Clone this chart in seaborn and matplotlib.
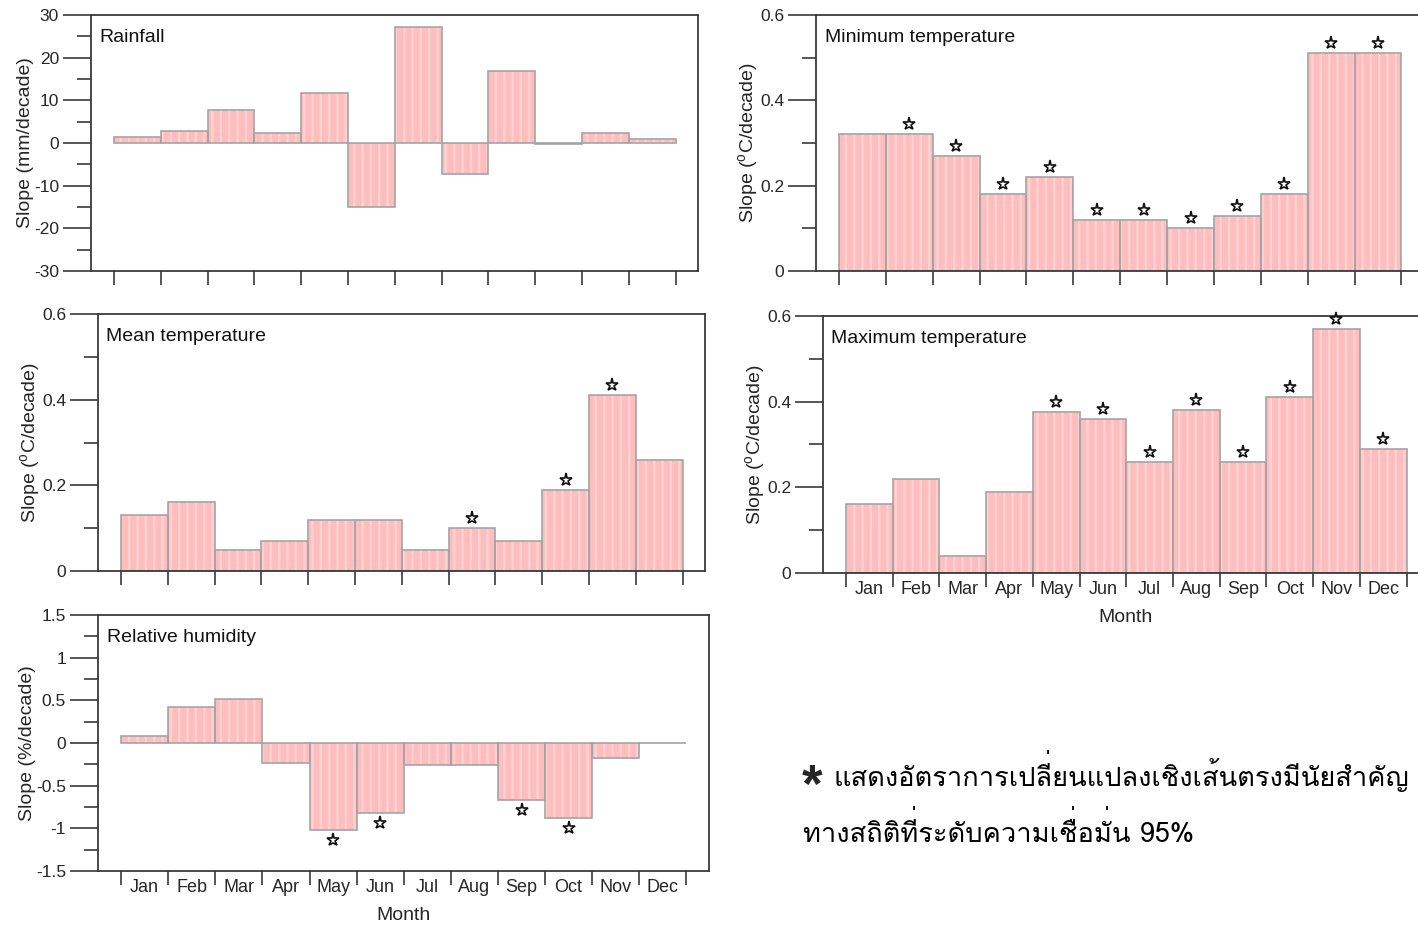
import numpy as np
import pandas as pd
import matplotlib
matplotlib.use("Agg")
import matplotlib.pyplot as plt
import matplotlib.transforms as mtransforms
from matplotlib import font_manager
from matplotlib.ft2font import FT2Font
from matplotlib.ticker import MultipleLocator, FuncFormatter
import seaborn as sns

# ---------------- data ----------------
months = ["Jan", "Feb", "Mar", "Apr", "May", "Jun",
          "Jul", "Aug", "Sep", "Oct", "Nov", "Dec"]

rainfall = [1.3, 2.9, 7.7, 2.3, 11.8, -15.1, 27.3, -7.2, 16.9, -0.3, 2.3, 1.0]
rainfall_sig = [False] * 12

tmin = [0.32, 0.32, 0.27, 0.18, 0.22, 0.12, 0.12, 0.10, 0.13, 0.18, 0.51, 0.51]
tmin_sig = [False, True, True, True, True, True, True, True, True, True, True, True]

tmean = [0.13, 0.16, 0.05, 0.07, 0.12, 0.12, 0.05, 0.10, 0.07, 0.19, 0.41, 0.26]
tmean_sig = [False, False, False, False, False, False, False, True, False, True, True, False]

tmax = [0.16, 0.22, 0.04, 0.19, 0.377, 0.36, 0.26, 0.38, 0.26, 0.41, 0.57, 0.29]
tmax_sig = [False, False, False, False, True, True, True, True, True, True, True, True]

rh = [0.08, 0.42, 0.52, -0.23, -1.02, -0.82, -0.26, -0.26, -0.67, -0.88, -0.18, 0.0]
rh_sig = [False, False, False, False, True, True, False, False, True, True, False, False]

note_mark = "*"
note_line1 = "แสดงอัตราการเปลี่ยนแปลงเชิงเส้นตรงมีนัยสำคัญ"
note_line2 = "ทางสถิติที่ระดับความเชื่อมั่น 95%"

# ---------------- style ----------------
sns.set_theme(style="white")
plt.rcParams["font.family"] = ["Liberation Sans", "DejaVu Sans"]
plt.rcParams["axes.unicode_minus"] = False
plt.rcParams["hatch.linewidth"] = 1.8

BAR_FILL = "#ffbdbd"
BAR_STRIPE = "#ffd2d2"
BAR_EDGE = "#a4a4a4"
AXIS_COLOR = "#3a3a3a"

W, H = 1418, 926
fig = plt.figure(figsize=(W / 100, H / 100), dpi=100)


def px_axes(left, top, right, bottom):
    return fig.add_axes([left / W, 1 - bottom / H, (right - left) / W, (bottom - top) / H])


def fmt(v, _pos):
    return f"{v:g}"


def draw_panel(ax, values, sig, title, ylabel, ylim, major, minor,
               show_months, star_px=10):
    df = pd.DataFrame({"month": months, "value": values})
    n0 = len(ax.patches)
    sns.barplot(data=df, x="month", y="value", order=months, ax=ax,
                color=BAR_FILL, saturation=1, width=1.0, errorbar=None)
    for p in ax.patches[n0:]:
        p.set_hatch("||")
        p.set_edgecolor(BAR_STRIPE)
        p.set_linewidth(0)
    n1 = len(ax.patches)
    sns.barplot(data=df, x="month", y="value", order=months, ax=ax,
                color=BAR_EDGE, saturation=1, width=1.0, errorbar=None, fill=False)
    for p in ax.patches[n1:]:
        p.set_edgecolor(BAR_EDGE)
        p.set_linewidth(1.2)
        p.set_facecolor("none")

    # significance markers above positive bars / below negative bars
    for i, (v, s) in enumerate(zip(values, sig)):
        if not s:
            continue
        off = star_px if v >= 0 else -star_px
        tr = mtransforms.offset_copy(ax.transData, fig=fig, x=0, y=off, units="dots")
        ax.plot([i], [v], marker="*", markersize=9.5, markerfacecolor="white",
                markeredgecolor="#111111", markeredgewidth=1.2, transform=tr,
                clip_on=False, zorder=5)

    ax.set_xlim(-0.99, 11.98)
    ax.set_ylim(*ylim)
    ax.yaxis.set_major_locator(MultipleLocator(major))
    ax.yaxis.set_minor_locator(MultipleLocator(minor))
    ax.yaxis.set_major_formatter(FuncFormatter(fmt))
    ax.tick_params(axis="y", which="major", direction="out", length=20, width=1.2,
                   color=AXIS_COLOR, labelsize=12.5, pad=3, left=True)
    ax.tick_params(axis="y", which="minor", direction="out", length=10, width=1.2,
                   color=AXIS_COLOR, left=True)

    ax.set_xticks(np.arange(-0.5, 12, 1.0))
    ax.tick_params(axis="x", which="major", direction="out", length=10, width=1.2,
                   color=AXIS_COLOR, bottom=True, labelbottom=False)
    if show_months:
        ax.set_xticks(np.arange(12), minor=True)
        ax.set_xticklabels(months, minor=True)
        ax.tick_params(axis="x", which="minor", length=0, labelsize=13, pad=6,
                       labelbottom=True)
    ax.set_xlabel("")

    for side in ["left", "right", "top", "bottom"]:
        ax.spines[side].set_color(AXIS_COLOR)
        ax.spines[side].set_linewidth(1.3)

    ax.set_ylabel(ylabel, fontsize=14, labelpad=0)
    ax.text(0.014, 0.912, title, transform=ax.transAxes, fontsize=14,
            ha="left", va="center", color="#111111")


ax1 = px_axes(91, 15, 698, 271)
draw_panel(ax1, rainfall, rainfall_sig, "Rainfall", "Slope (mm/decade)",
           (-30, 30), 10, 5, False)

ax2 = px_axes(816, 15, 1424, 271)
draw_panel(ax2, tmin, tmin_sig, "Minimum temperature",
           r"Slope ($\mathregular{^o}$C/decade)", (0, 0.6), 0.2, 0.1, False)

ax3 = px_axes(98, 314, 705, 571)
draw_panel(ax3, tmean, tmean_sig, "Mean temperature",
           r"Slope ($\mathregular{^o}$C/decade)", (0, 0.6), 0.2, 0.1, False)

ax4 = px_axes(823, 316, 1429, 573)
draw_panel(ax4, tmax, tmax_sig, "Maximum temperature",
           r"Slope ($\mathregular{^o}$C/decade)", (0, 0.6), 0.2, 0.1, True)
ax4.set_xlabel("Month", fontsize=14, labelpad=8)

ax5 = px_axes(98, 615, 709, 871)
draw_panel(ax5, rh, rh_sig, "Relative humidity", "Slope (%/decade)",
           (-1.5, 1.5), 0.5, 0.25, True)
ax5.set_xlabel("Month", fontsize=14, labelpad=8)


# ---------------- footnote (Thai) ----------------
PREFERRED_THAI = ["loma", "waree", "garuda", "tlwgtypo", "umpush", "looped",
                  "sarabun", "kinnari", "norasi", "thai"]


def find_thai_font():
    candidates = []
    for path in font_manager.findSystemFonts():
        low = path.lower()
        if "bold" in low or "oblique" in low or "italic" in low:
            continue
        try:
            if 0x0E01 in FT2Font(path).get_charmap():
                candidates.append(path)
        except Exception:
            continue

    def rank(p):
        name = p.lower().replace(" ", "").replace("-", "")
        for i, key in enumerate(PREFERRED_THAI):
            if key in name:
                return (i, p)
        return (len(PREFERRED_THAI), p)

    candidates.sort(key=rank)
    return candidates[0] if candidates else None


thai_path = find_thai_font()
note_family = ["Liberation Sans", "DejaVu Sans"]
if thai_path:
    font_manager.fontManager.addfont(thai_path)
    thai_name = font_manager.FontProperties(fname=thai_path).get_name()
    note_family = [thai_name, "Liberation Sans", "DejaVu Sans"]

UPPER_VOWELS = set("\u0e31\u0e34\u0e35\u0e36\u0e37\u0e47")
TONE_MARKS = set("\u0e48\u0e49\u0e4a\u0e4b\u0e4c")

renderer = fig.canvas.get_renderer()


def thai_line(x_px, baseline_px, text, size):
    """Draw a Thai line; tone marks sitting on an upper vowel are lifted
    above it, since the text engine does not stack combining marks."""
    prop = font_manager.FontProperties(family=note_family, size=size)
    base, lifted = "", []
    prev = ""
    for ch in text:
        if ch in TONE_MARKS and prev in UPPER_VOWELS:
            lifted.append((len(base), ch))
        else:
            base += ch
        prev = ch
    y = 1 - baseline_px / H
    fig.text(x_px / W, y, base, fontproperties=prop, ha="left", va="baseline",
             color="black")
    lift = size * 0.30 * 100 / 72  # pixels
    for idx, ch in lifted:
        w, _, _ = renderer.get_text_width_height_descent(base[:idx], prop, ismath=False)
        xr = x_px + w - size * 0.04 * 100 / 72
        # a no-break space carries the mark so the text has a real extent
        fig.text(xr / W, y + lift / H, "\u00a0" + ch,
                 fontproperties=prop, ha="right", va="baseline", color="black")


fig.text(802 / W, 1 - 802 / H, note_mark, fontsize=38, fontweight="bold",
         family=["Liberation Sans", "DejaVu Sans"], ha="left", va="baseline")
thai_line(833, 786, note_line1, 19.6)
thai_line(803, 842, note_line2, 19.6)

fig.savefig("out.png", dpi=100, facecolor="white")
